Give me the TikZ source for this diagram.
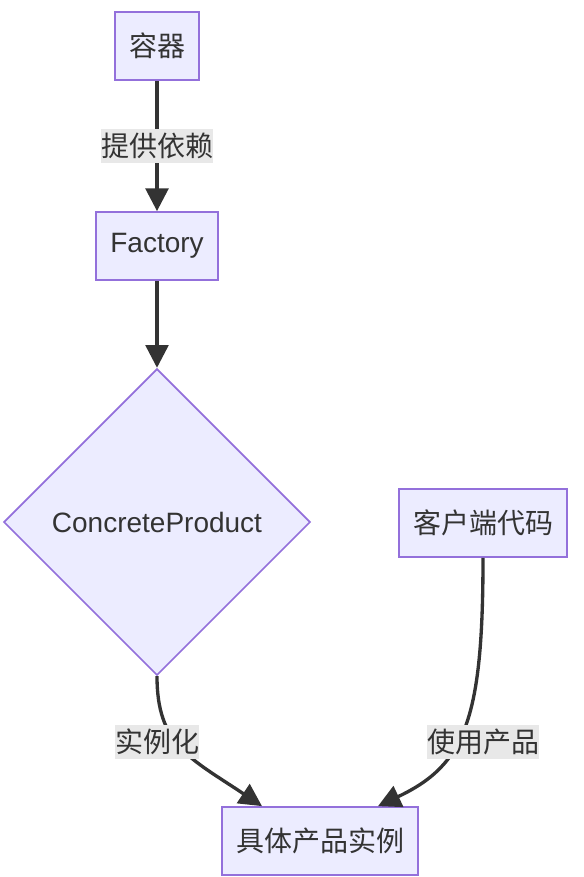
\documentclass[tikz,border=0pt]{standalone}
\usepackage{fontspec}
\setmainfont{Liberation Sans}
\newfontfamily\cjk{Noto Sans CJK SC}
\usetikzlibrary{shapes.geometric,arrows.meta}
\begin{document}
\begin{tikzpicture}[x=0.75pt,y=-0.75pt]
        %colores
        \definecolor{relleno}{HTML}{ECECFF}
        \definecolor{borde}{HTML}{9370DB}
        \definecolor{texto}{HTML}{333333}
        \definecolor{fondo}{HTML}{E8E8E8}
        \tikzset{
            caja/.style={draw=borde,fill=relleno,line width=1.3pt,text=texto,font=\fontsize{21}{25}\selectfont,minimum height=51pt,inner xsep=10.5pt},
            rombo/.style={caja,diamond,aspect=1,minimum size=230pt,inner sep=0pt},
            etiqueta/.style={fill=fondo,text=texto,font=\cjk\fontsize{21}{25}\selectfont,inner xsep=0pt,inner ysep=3pt},
            flecha/.style={texto,line width=2.5pt,-{Triangle[length=17pt,width=17pt]}}
        }
        \useasboundingbox (0,0) rectangle (583,877);

        % Nodos
        \node[caja] (contenedor) at (157,46) {\cjk 容器};
        \node[caja] (factory) at (157,246) {\raisebox{-2pt}{Factory}};
        \node[rombo] (producto) at (157,522) {ConcreteProduct};
        \node[caja] (cliente) at (483,523) {\cjk 客户端代码};
        \node[caja] (resultado) at (320,841) {\cjk 具体产品实例};
        \coordinate (tipizq) at ([xshift=-43.5pt]resultado.north);
        \coordinate (tipder) at ([xshift=43.5pt]resultado.north);

        % Flechas rectas
        \draw[flecha] (contenedor) -- node[etiqueta] (proveer) {提供依赖} (factory);
        \draw[flecha] (factory) -- (producto);

        % Flechas curvas y etiquetas
        \draw[flecha] (producto.south) .. controls (157,745) and (190,758) .. (tipizq);
        \draw[flecha] (cliente.south) .. controls (483,720) and (465,765) .. (tipder);
        \node[etiqueta] (instanciar) at (157,742) {实例化};
        \node[etiqueta] (usar) at (483,742) {使用产品};
    \end{tikzpicture}
\end{document}
